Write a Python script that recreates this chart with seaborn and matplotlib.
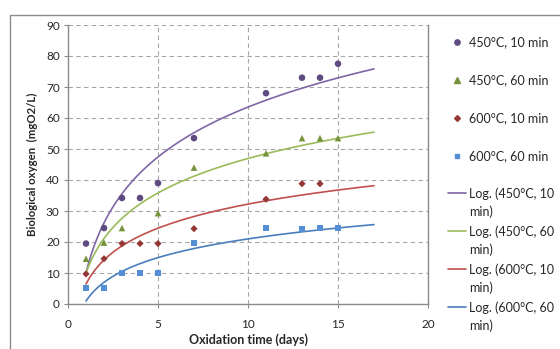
import numpy as np
import matplotlib
matplotlib.use("Agg")
import matplotlib.pyplot as plt
import seaborn as sns
from matplotlib.lines import Line2D

# measured data (days, mgO2/L)
x_450_10 = [1, 2, 3, 4, 5, 7, 11, 13, 14, 15]
y_450_10 = [19.5, 24.5, 34.2, 34.2, 39.0, 53.5, 68.0, 73.0, 73.0, 77.5]
x_450_60 = [1, 2, 3, 5, 7, 11, 13, 14, 15]
y_450_60 = [14.6, 19.8, 24.5, 29.3, 44.0, 48.6, 53.5, 53.5, 53.5]
x_600_10 = [1, 2, 3, 4, 5, 7, 11, 13, 14]
y_600_10 = [9.7, 14.6, 19.5, 19.5, 19.5, 24.3, 33.8, 38.8, 38.8]
x_600_60 = [1, 2, 3, 4, 5, 7, 11, 13, 14, 15]
y_600_60 = [5.2, 5.2, 10.0, 10.0, 10.0, 19.7, 24.5, 24.3, 24.5, 24.5]

labels = ["450°C, 10 min", "450°C, 60 min", "600°C, 10 min", "600°C, 60 min"]
trend_labels = ["Log. (450°C, 10\nmin)", "Log. (450°C, 60\nmin)",
                "Log. (600°C, 10\nmin)", "Log. (600°C, 60\nmin)"]

sns.set_theme(style="white")
plt.rcParams['font.family'] = ['Lato', 'DejaVu Sans']

W, H = 560, 349
fig = plt.figure(figsize=(W / 100, H / 100), dpi=100)
ax = fig.add_axes([68 / W, 1 - 304 / H, 360 / W, 279 / H])

series = [
    (x_450_10, y_450_10, "o", "#5F4B80", "#7F66A6", 4.5),
    (x_450_60, y_450_60, "^", "#76923C", "#9BBB59", 4.5),
    (x_600_10, y_600_10, "D", "#953735", "#C0504D", 3.5),
    (x_600_60, y_600_60, "s", "#558ED5", "#4A7EBB", 4.0),
]

for xs, ys, mk, mc, lc, ms in series:
    sns.scatterplot(x=xs, y=ys, marker=mk, color=mc, s=ms ** 2 * 1.1,
                    edgecolor="none", ax=ax, zorder=3)
    # logarithmic trend line, fitted to the data as the spreadsheet does
    a, b = np.polyfit(np.log(xs), ys, 1)
    xt = np.linspace(1, 17, 200)
    sns.lineplot(x=xt, y=a * np.log(xt) + b, color=lc, lw=1.2, ax=ax, zorder=2)

ax.set_xlim(0, 20)
ax.set_ylim(0, 90)
ax.set_xticks(range(0, 21, 5))
ax.set_yticks(range(0, 91, 10))
ax.grid(True, ls=(0, (4, 3)), color="#A6A6A6", lw=0.8)
ax.set_axisbelow(True)
for side in ["left", "bottom", "right"]:
    ax.spines[side].set_color("#8C8C8C")
    ax.spines[side].set_linewidth(1.0)
ax.spines["top"].set_visible(False)
ax.tick_params(axis="both", direction="out", length=3, width=0.8,
               color="#8C8C8C", labelsize=8.5, pad=3, bottom=True, left=True)
ax.tick_params(axis="x", pad=8)
ax.set_xlabel("Oxidation time (days)", fontsize=9, fontweight="bold",
              va="center")
ax.xaxis.set_label_coords(0.5, -(340 - 304) / 279, transform=ax.transAxes)
ax.set_ylabel("Biological oxygen  (mgO2/L)", fontsize=8.2, fontweight="bold",
              va="center")
ax.yaxis.set_label_coords((32 - 68) / 360, 0.5, transform=ax.transAxes)

# legend, laid out like the spreadsheet's (text wraps inside a fixed box)
def fx(px):
    return px / W


def fy(py):
    return 1 - py / H


for i, (s, lab) in enumerate(zip(series, labels)):
    yc = 42 + 38 * i
    fig.add_artist(Line2D([fx(457)], [fy(yc)], transform=fig.transFigure,
                          ls="none", marker=s[2], color=s[3],
                          markersize=s[5] * 0.85))
    fig.text(fx(469), fy(yc), lab, fontsize=9, va="center", ha="left")

for i, (s, lab) in enumerate(zip(series, trend_labels)):
    yc = 193 + 38 * i
    fig.add_artist(Line2D([fx(448), fx(466)], [fy(yc), fy(yc)],
                          transform=fig.transFigure, color=s[4], lw=1.2))
    fig.text(fx(469), fy(yc - 6), lab, fontsize=9, va="top", ha="left",
             linespacing=1.55)

# outer chart frame
fig.add_artist(Line2D([fx(10), fx(10)], [0, fy(15)],
                      transform=fig.transFigure, color="#8C8C8C", lw=1.0))
fig.add_artist(Line2D([fx(10), 1], [fy(15), fy(15)],
                      transform=fig.transFigure, color="#8C8C8C", lw=1.0))

fig.savefig("out.png", dpi=100)
